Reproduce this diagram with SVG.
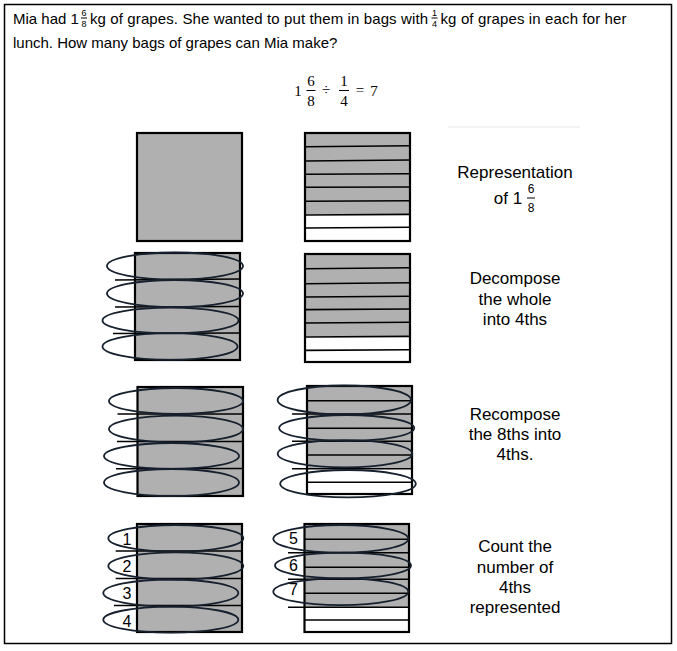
<svg xmlns="http://www.w3.org/2000/svg" width="677" height="651" viewBox="0 0 677 651">
<style>
.t{font-family:"Liberation Sans",Arial,sans-serif;fill:#000}
.q{font-size:15px}
.fr{font-size:9px;text-anchor:middle}
.m{font-family:"Liberation Serif","Times New Roman",serif;font-size:15px;text-anchor:middle;fill:#000}
.lab{font-size:17px;text-anchor:middle}
.num{font-size:16px;text-anchor:middle}
.g{fill:#b0b0b0}
.w{fill:#fff}
.box{fill:none;stroke:#000;stroke-width:2.2}
.ln{stroke:#000;stroke-width:1.6;fill:none}
.el{fill:none;stroke:#16202e;stroke-width:1.8}
.bar{stroke:#000;stroke-width:1}
</style>
<rect x="0" y="0" width="677" height="651" fill="#fff"/>
<rect id="frame" x="4.5" y="4.5" width="667" height="639" fill="none" stroke="#000" stroke-width="1.5"/>

<g id="question">
<text class="t q" x="13" y="24">Mia had 1</text>
<text class="t fr" x="84" y="16">6</text>
<line class="bar" x1="81" y1="18" x2="87" y2="18"/>
<text class="t fr" x="84" y="27">8</text>
<text class="t q" x="90" y="24" textLength="338" lengthAdjust="spacing">kg of grapes. She wanted to put them in bags with</text>
<text class="t fr" x="434.5" y="16">1</text>
<line class="bar" x1="431.5" y1="18" x2="437.5" y2="18"/>
<text class="t fr" x="434.5" y="27">4</text>
<text class="t q" x="440.5" y="24" textLength="186" lengthAdjust="spacing">kg of grapes in each for her</text>
<text class="t q" x="13" y="48">lunch. How many bags of grapes can Mia make?</text>
</g>

<g id="equation">
<text class="m" x="298" y="96">1</text>
<text class="m" x="311" y="86">6</text>
<line class="bar" x1="306.5" y1="90.5" x2="315.5" y2="90.5"/>
<text class="m" x="311" y="106">8</text>
<text class="m" x="326" y="95">÷</text>
<text class="m" x="344" y="86">1</text>
<line class="bar" x1="339" y1="90.5" x2="349" y2="90.5"/>
<text class="m" x="344" y="106">4</text>
<text class="m" x="360" y="95">=</text>
<text class="m" x="374" y="96">7</text>
</g>

<line id="faint" x1="448" y1="127" x2="580" y2="127" stroke="#f3f3f3" stroke-width="2"/>

<g id="row1-whole">
<rect class="g" x="137" y="133" width="105" height="108"/>
<rect class="box" x="137" y="133" width="105" height="108"/>
</g>
<g id="row1-eighths">
<rect class="g" x="305" y="133" width="105" height="81.5"/>
<rect class="w" x="305" y="214.5" width="105" height="26.5"/>
<path class="ln" d="M305 146.8L410 145.8M305 161L410 160M305 174.3L410 173.8M305 187.3L410 187M305 201.3L410 200.8M305 215L410 214.4M305 228L410 227.3"/>
<rect class="box" x="305" y="133" width="105" height="108"/>
</g>

<g id="row2-whole">
<rect class="g" x="135" y="253" width="105" height="107"/>
<path class="ln" d="M115 280L240 279M115 307L240 306.5M113 333.5L240 333"/>
<rect class="box" x="135" y="253" width="105" height="107"/>
<ellipse class="el" cx="175" cy="266" rx="68" ry="13.5"/>
<ellipse class="el" cx="175" cy="293.5" rx="68" ry="13.5"/>
<ellipse class="el" cx="170.5" cy="320.5" rx="68" ry="12.8"/>
<ellipse class="el" cx="170" cy="346.5" rx="67.5" ry="13.3"/>
</g>
<g id="row2-eighths">
<rect class="g" x="305" y="254" width="105" height="82.5"/>
<rect class="w" x="305" y="336.5" width="105" height="25.5"/>
<path class="ln" d="M305 268.8L410 267.8M305 283.8L410 282.8M305 297L410 296.3M305 309.6L410 309M305 323L410 322.3M305 337L410 336.4M305 350.4L410 349.8"/>
<rect class="box" x="305" y="254" width="105" height="108"/>
</g>

<g id="row3-whole">
<rect class="g" x="137.5" y="387" width="105.5" height="109"/>
<path class="ln" d="M117.5 414L243 414M117 441.5L243 441.5M116 468.8L243 468.5"/>
<rect class="box" x="137.5" y="387" width="105.5" height="109"/>
<ellipse class="el" cx="176" cy="401" rx="67" ry="13"/>
<ellipse class="el" cx="176" cy="429" rx="67" ry="13.3"/>
<ellipse class="el" cx="171.5" cy="456" rx="67.5" ry="13"/>
<ellipse class="el" cx="171.5" cy="482.5" rx="67.5" ry="13.5"/>
</g>
<g id="row3-eighths">
<rect class="g" x="307" y="386" width="105" height="82.7"/>
<rect class="w" x="307" y="468.7" width="105" height="25.3"/>
<path class="ln" d="M307 400.7L412 400.7M292 414L412 414M307 428.3L412 428.3M292 441.3L412 441.3M307 455L412 455M292 468.7L412 468.7M307 482.3L412 482.3"/>
<rect class="box" x="307" y="386" width="105" height="108"/>
<ellipse class="el" cx="344.3" cy="400" rx="66.7" ry="14.5"/>
<ellipse class="el" cx="346.7" cy="428" rx="67.5" ry="13"/>
<ellipse class="el" cx="345" cy="453.7" rx="67.3" ry="13.6"/>
<ellipse class="el" cx="348" cy="483.7" rx="67.8" ry="13.7"/>
</g>

<g id="row4-whole">
<rect class="g" x="137" y="524" width="105" height="108"/>
<path class="ln" d="M115.7 551L242 551M115.7 578.5L242 578.5M114 605.5L242 605.5"/>
<rect class="box" x="137" y="524" width="105" height="108"/>
<ellipse class="el" cx="175.8" cy="538.3" rx="67.5" ry="13.3"/>
<ellipse class="el" cx="175.8" cy="566" rx="67.5" ry="13.7"/>
<ellipse class="el" cx="170.8" cy="593" rx="67.5" ry="13.5"/>
<ellipse class="el" cx="170.8" cy="619.7" rx="67.5" ry="13"/>
<text class="t num" x="127" y="545">1</text>
<text class="t num" x="127" y="572">2</text>
<text class="t num" x="127" y="599">3</text>
<text class="t num" x="127" y="627">4</text>
</g>
<g id="row4-eighths">
<rect class="g" x="304.5" y="524" width="104.5" height="83.3"/>
<rect class="w" x="304.5" y="607.3" width="104.5" height="24.7"/>
<path class="ln" d="M304.5 539.3L409 539.3M288 552.7L409 552.7M304.5 567.3L409 567.3M288 579.3L409 579.3M304.5 593.3L409 593.3M288 607.3L409 607.3M304.5 620L409 620"/>
<rect class="box" x="304.5" y="524" width="104.5" height="108"/>
<ellipse class="el" cx="340.8" cy="538.8" rx="67.5" ry="13.8"/>
<ellipse class="el" cx="343" cy="565.5" rx="68" ry="12.8"/>
<ellipse class="el" cx="340.8" cy="591.7" rx="67.5" ry="13.4"/>
<text class="t num" x="293.5" y="543.5">5</text>
<text class="t num" x="293.5" y="571">6</text>
<text class="t num" x="293.5" y="595">7</text>
</g>

<g id="label1">
<text class="t lab" x="515" y="178">Representation</text>
<text class="t lab" x="508" y="203.5">of 1</text>
<text class="t" x="531" y="193" font-size="12" text-anchor="middle">6</text>
<line class="bar" x1="527" y1="198" x2="535" y2="198"/>
<text class="t" x="531" y="211.5" font-size="12" text-anchor="middle">8</text>
</g>
<g id="label2">
<text class="t lab" x="515" y="284">Decompose</text>
<text class="t lab" x="515" y="304.5">the whole</text>
<text class="t lab" x="515" y="324.5">into 4ths</text>
</g>
<g id="label3">
<text class="t lab" x="515" y="420">Recompose</text>
<text class="t lab" x="515" y="440">the 8ths into</text>
<text class="t lab" x="515" y="460">4ths.</text>
</g>
<g id="label4">
<text class="t lab" x="515" y="552">Count the</text>
<text class="t lab" x="515" y="572.5">number of</text>
<text class="t lab" x="515" y="592.5">4ths</text>
<text class="t lab" x="515" y="612.5">represented</text>
</g>
</svg>
